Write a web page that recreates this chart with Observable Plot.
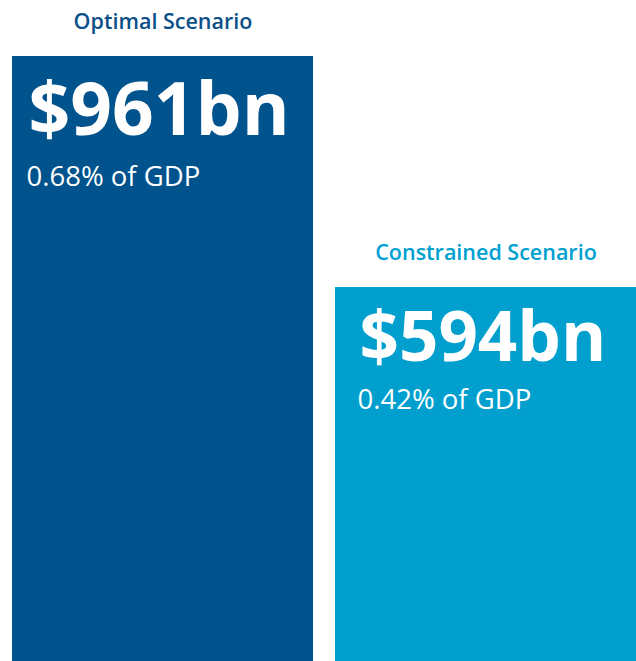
<!DOCTYPE html>
<html>
<head>
<meta charset="utf-8">
<script src="https://cdn.jsdelivr.net/npm/d3@7"></script>
<script src="https://cdn.jsdelivr.net/npm/@observablehq/plot@0.6"></script>
<style>
  html, body { margin: 0; padding: 0; background: #fff; }
  #chart svg { display: block; }
</style>
</head>
<body>
<div id="chart"></div>
<script>
// Data
const scenarios = ["Optimal Scenario", "Constrained Scenario"];
const amounts = [961, 594];           // $ billion
const amountLabels = ["$961bn", "$594bn"];
const gdpLabels = ["0.68% of GDP", "0.42% of GDP"];
const barColors = ["#00538D", "#009FCE"];
const titleColors = ["#0B5089", "#00A0D0"];

const data = scenarios.map((s, i) => ({
  scenario: s, amount: amounts[i], amountLabel: amountLabels[i],
  gdpLabel: gdpLabels[i], color: barColors[i], titleColor: titleColors[i]
}));

// per-bar text layout (styling only)
const layout = [
  {dx: 16, bigDy: 78, bigSize: 73, subDy: 129, subSize: 27.5},
  {dx: 24, bigDy: 73, bigSize: 69, subDy: 121, subSize: 27.5}
];
const bw = 301;

const marks = [
  Plot.barY(data, {x: "scenario", y: "amount", fill: "color"})
];
data.forEach((d, i) => {
  const L = layout[i];
  const sel = [d];
  marks.push(
    Plot.text(sel, {x: "scenario", y: "amount", text: "scenario", fill: "titleColor",
      lineAnchor: "bottom", dy: -28, fontSize: 21.5, fontWeight: 600, textAnchor: "middle"}),
    Plot.text(sel, {x: "scenario", y: "amount", text: "amountLabel", fill: "white",
      lineAnchor: "bottom", dy: L.bigDy, dx: -bw / 2 + L.dx, textAnchor: "start",
      fontSize: L.bigSize, fontWeight: 700}),
    Plot.text(sel, {x: "scenario", y: "amount", text: "gdpLabel", fill: "white",
      lineAnchor: "bottom", dy: L.subDy, dx: -bw / 2 + L.dx - 2, textAnchor: "start",
      fontSize: L.subSize, fontWeight: 400})
  );
});

const chart = Plot.plot({
  width: 636,
  height: 661,
  marginTop: 56,
  marginBottom: 0,
  marginLeft: 12,
  marginRight: 0,
  style: {fontFamily: "'Open Sans', sans-serif", background: "#fff"},
  x: {domain: scenarios, axis: null, paddingInner: 22 / 323, paddingOuter: 0},
  y: {domain: [0, 961], axis: null},
  color: {type: "identity"},
  marks
});
document.getElementById("chart").appendChild(chart);
</script>
</body>
</html>
